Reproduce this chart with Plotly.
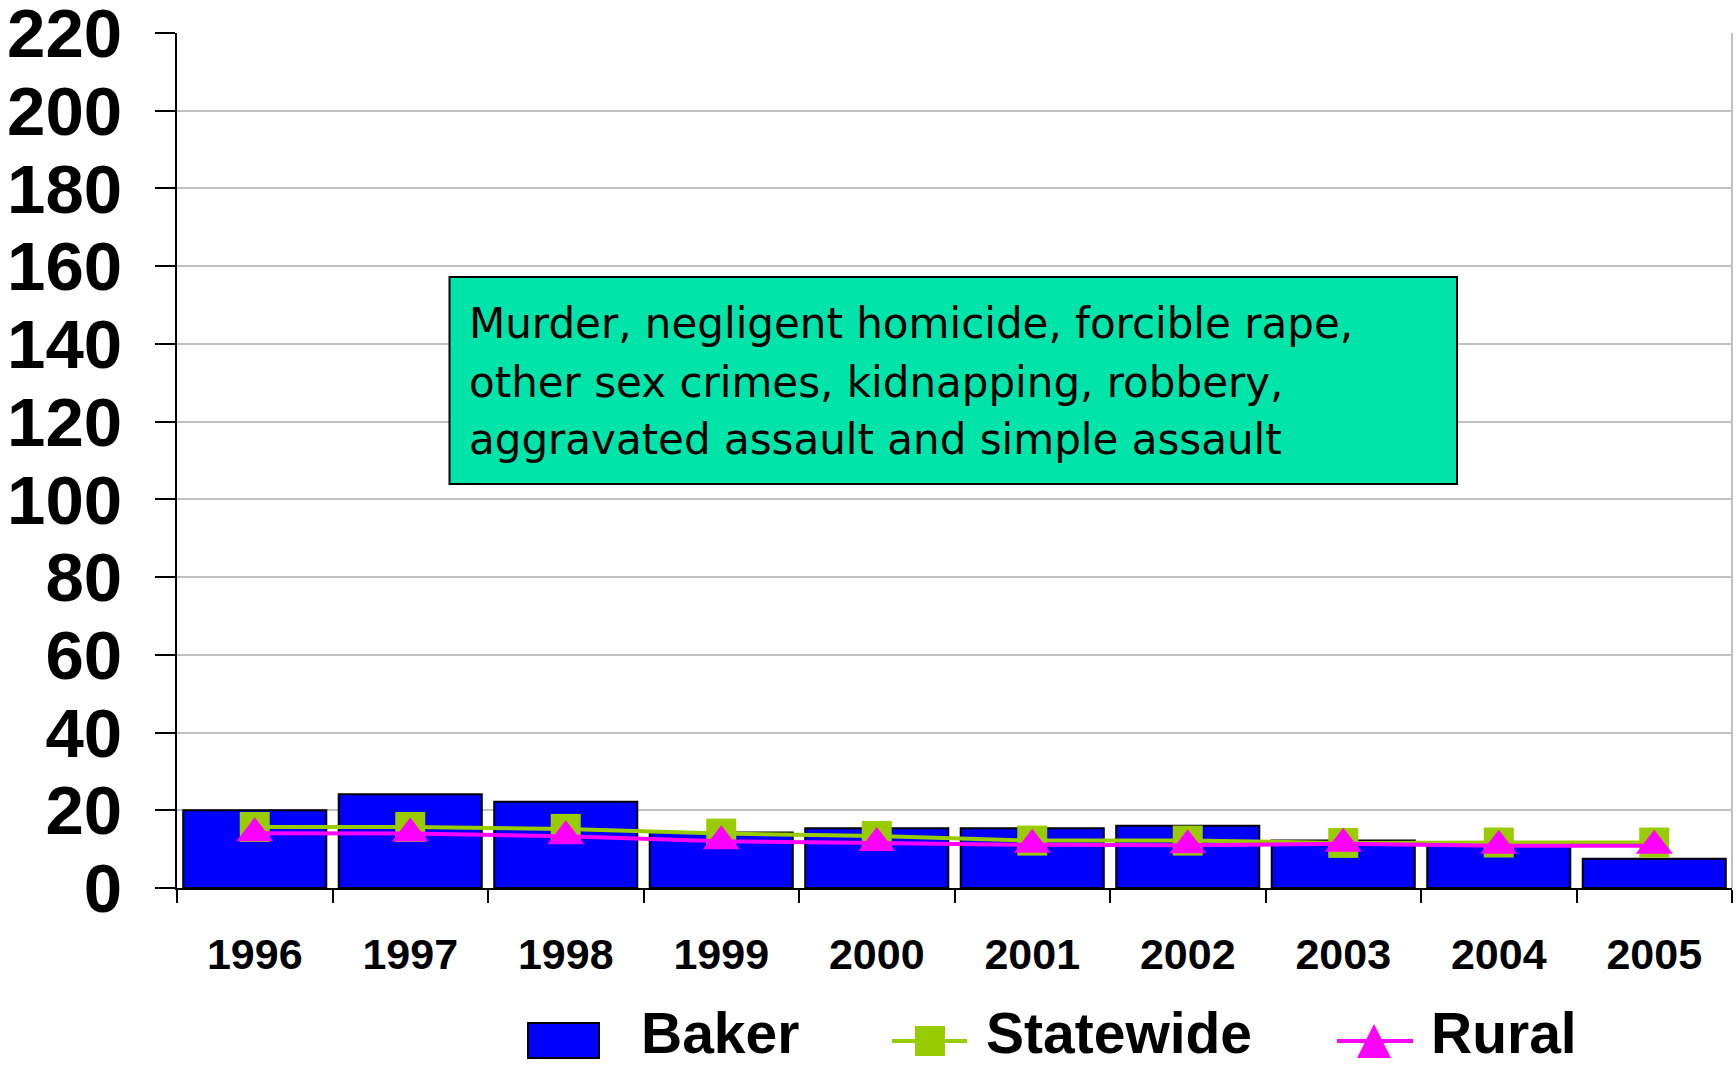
import plotly.graph_objects as go

# Crimes against persons rate, 1996-2005
years = ["1996", "1997", "1998", "1999", "2000", "2001", "2002", "2003", "2004", "2005"]
baker = [20.0, 24.1, 22.2, 14.3, 15.4, 15.4, 16.0, 12.2, 11.7, 7.5]
statewide = [15.7, 15.7, 15.2, 14.0, 13.4, 12.2, 12.2, 11.6, 11.7, 11.7]
rural = [14.1, 14.0, 13.3, 12.0, 11.6, 11.1, 11.0, 11.4, 10.9, 10.9]

box_lines = [
    "Murder, negligent homicide, forcible rape,",
    "other sex crimes, kidnapping, robbery,",
    "aggravated assault and simple assault",
]
legend_names = ["Baker", "Statewide", "Rural"]

BLUE = "#0000FF"
GREEN = "#99CC00"
MAGENTA = "#FF00FF"
GRID = "#C0C0C0"

W, H = 1736, 1066
L, R, T, B = 177, 4, 33, 178
PW, PH = W - L - R, H - T - B


def px(x):
    return (x - L) / PW


def py(y):
    return (H - B - y) / PH


fig = go.Figure()
fig.add_trace(go.Bar(
    x=years, y=baker, name=legend_names[0],
    marker=dict(color=BLUE, line=dict(color="black", width=2)),
))
fig.add_trace(go.Scatter(
    x=years, y=statewide, name=legend_names[1], mode="lines+markers",
    line=dict(color=GREEN, width=4),
    marker=dict(symbol="square", size=30, color=GREEN),
))
fig.add_trace(go.Scatter(
    x=years, y=rural, name=legend_names[2], mode="lines+markers",
    line=dict(color=MAGENTA, width=4),
    marker=dict(symbol="triangle-up", size=32, color=MAGENTA),
))

shapes = []
annotations = []

# description box
shapes.append(dict(type="rect", xref="paper", yref="paper",
                   x0=px(449.5), x1=px(1457), y0=py(484), y1=py(277),
                   fillcolor="rgb(0,228,170)", line=dict(color="black", width=2)))
for text, yc in zip(box_lines, [324, 382, 439]):
    annotations.append(dict(text=text, xref="paper", yref="paper",
                            x=px(467), y=py(yc), xanchor="left", yanchor="middle",
                            showarrow=False,
                            font=dict(family="DejaVu Sans", size=42, color="black")))

# right-hand border of the plot area
shapes.append(dict(type="line", xref="paper", yref="paper", x0=1, x1=1, y0=0, y1=1,
                   line=dict(color=GRID, width=2)))

# legend row
ly = 1033
shapes.append(dict(type="rect", xref="paper", yref="paper",
                   x0=px(528), x1=px(599), y0=py(1058), y1=py(1023),
                   fillcolor=BLUE, line=dict(color="black", width=2)))
shapes.append(dict(type="line", xref="paper", yref="paper",
                   x0=px(892), x1=px(967), y0=py(1041), y1=py(1041),
                   line=dict(color=GREEN, width=4)))
shapes.append(dict(type="rect", xref="paper", yref="paper",
                   x0=px(915), x1=px(945), y0=py(1056), y1=py(1026),
                   fillcolor=GREEN, line=dict(width=0)))
shapes.append(dict(type="line", xref="paper", yref="paper",
                   x0=px(1337), x1=px(1413), y0=py(1041), y1=py(1041),
                   line=dict(color=MAGENTA, width=4)))
shapes.append(dict(type="path", xref="paper", yref="paper",
                   path=f"M {px(1357)} {py(1058)} L {px(1391)} {py(1058)} L {px(1374)} {py(1024)} Z",
                   fillcolor=MAGENTA, line=dict(width=0)))
for name, x0 in zip(legend_names, [639, 984, 1429]):
    annotations.append(dict(text=name, xref="paper", yref="paper",
                            x=px(x0), y=py(ly), xanchor="left", yanchor="middle",
                            showarrow=False,
                            font=dict(family="Liberation Sans", size=57, color="black",
                                      weight="bold")))

fig.update_layout(
    width=W, height=H,
    margin=dict(l=L, r=R, t=T, b=B, pad=0, autoexpand=False),
    paper_bgcolor="white", plot_bgcolor="white",
    showlegend=False,
    bargap=0.08,
    shapes=shapes,
    annotations=annotations,
)
fig.update_xaxes(
    type="category", range=[-0.5, 9.5], automargin=False,
    showline=True, linecolor="black", linewidth=2,
    ticks="outside", tickson="boundaries", ticklen=13, tickwidth=2, tickcolor="black",
    ticklabelstandoff=27,
    tickfont=dict(family="Liberation Sans", size=43, color="black", weight="bold"),
    showgrid=False,
)
fig.update_yaxes(
    range=[0, 220], dtick=20, automargin=False,
    showline=True, linecolor="black", linewidth=2,
    ticks="outside", ticklen=20, tickwidth=2, tickcolor="black",
    ticklabelstandoff=19, ticklabeloverflow="allow",
    tickfont=dict(family="Liberation Sans", size=69, color="black", weight="bold"),
    showgrid=True, gridcolor=GRID, gridwidth=2,
    zeroline=False,
)

fig.write_html("out.html")
